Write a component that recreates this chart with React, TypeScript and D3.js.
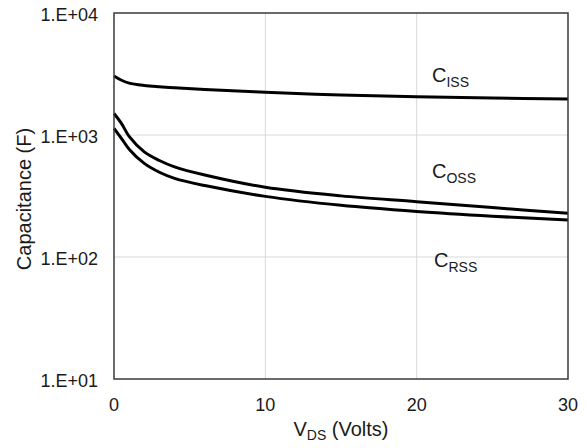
import React from "react";
import * as d3 from "d3";

const vds = [0, 0.5, 1, 2, 3, 4, 6, 10, 15, 20, 25, 30];
const ciss = [3050, 2810, 2660, 2545, 2485, 2440, 2365, 2240, 2130, 2060, 2010, 1970];
const coss = [1500, 1240, 975, 728, 618, 548, 470, 373, 317, 284, 254, 228];
const crss = [1135, 935, 765, 585, 495, 441, 385, 314, 265, 236, 216, 201];

const xTicks = [0, 10, 20, 30];
const yTicks = [10, 100, 1000, 10000];
const yTickLabels = ["1.E+01", "1.E+02", "1.E+03", "1.E+04"];

const seriesLabels = [
  { main: "C", sub: "ISS", x: 432, y: 82 },
  { main: "C", sub: "OSS", x: 432, y: 178 },
  { main: "C", sub: "RSS", x: 434, y: 267 },
];

const W = 586;
const H = 448;
const left = 114;
const right = 568;
const top = 13;
const bottom = 379;
const font = "Arial, 'Liberation Sans', sans-serif";

export default function App() {
  const x = d3.scaleLinear().domain([0, 30]).range([left, right]);
  const y = d3.scaleLog().domain([10, 10000]).range([bottom, top]);
  const line = d3
    .line<number>()
    .x((_, i) => x(vds[i]))
    .y((d) => y(d))
    .curve(d3.curveCatmullRom.alpha(0.5));
  const series = [ciss, coss, crss];

  return (
    <svg
      width={W}
      height={H}
      style={{ position: "absolute", left: 0, top: 0, background: "#fff" }}
      fontFamily={font}
    >
      {xTicks.slice(1, -1).map((t) => (
        <line key={"gx" + t} x1={x(t)} x2={x(t)} y1={top} y2={bottom} stroke="#d9d9d9" strokeWidth={1} />
      ))}
      {yTicks.slice(1, -1).map((t) => (
        <line key={"gy" + t} x1={left} x2={right} y1={y(t)} y2={y(t)} stroke="#d9d9d9" strokeWidth={1} />
      ))}
      {series.map((s, i) => (
        <path key={i} d={line(s) || ""} fill="none" stroke="#000" strokeWidth={3} />
      ))}
      <rect x={left} y={top} width={right - left} height={bottom - top} fill="none" stroke="#3a3a3a" strokeWidth={1.5} />
      {yTicks.map((t, i) => (
        <text key={"yl" + t} x={98} y={y(t) + 8} textAnchor="end" fontSize={18} fill="#1a1a1a">
          {yTickLabels[i]}
        </text>
      ))}
      {xTicks.map((t) => (
        <text key={"xl" + t} x={x(t)} y={411} textAnchor="middle" fontSize={18} fill="#1a1a1a">
          {t}
        </text>
      ))}
      <text
        transform="translate(31,199) rotate(-90)"
        textAnchor="middle"
        fontSize={20}
        fill="#1a1a1a"
      >
        Capacitance (F)
      </text>
      <text x={341} y={436} textAnchor="middle" fontSize={20} fill="#1a1a1a">
        V<tspan fontSize={14} dy={4}>DS</tspan>
        <tspan dy={-4}> (Volts)</tspan>
      </text>
      {seriesLabels.map((l, i) => (
        <text key={"sl" + i} x={l.x} y={l.y} fontSize={20} fill="#1a1a1a">
          {l.main}
          <tspan fontSize={14} dy={5}>{l.sub}</tspan>
        </text>
      ))}
    </svg>
  );
}
